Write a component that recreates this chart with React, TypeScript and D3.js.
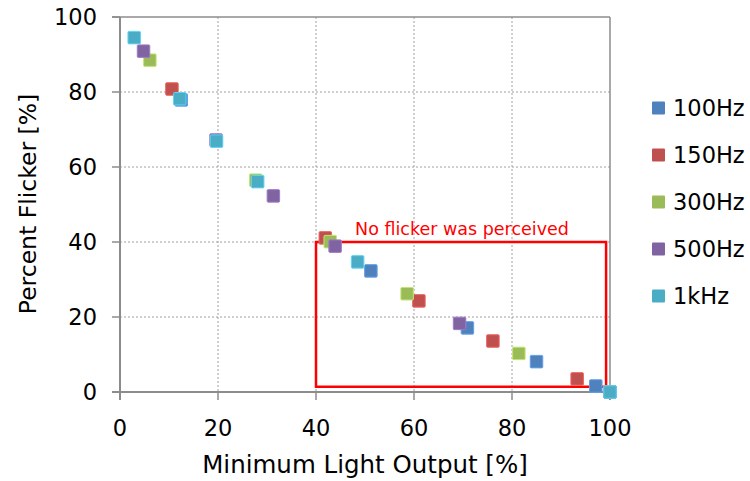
import React from "react";
import * as d3 from "d3";

// Measured flicker per frequency: [minimum light output %, percent flicker %]
const seriesNames = ["100Hz", "150Hz", "300Hz", "500Hz", "1kHz"];
const seriesColors = ["#4F81BD", "#C0504D", "#9BBB59", "#8064A2", "#4BACC6"];

const hz100: [number, number][] = [[12.5, 77.9], [51.2, 32.3], [70.9, 17.1], [85.0, 8.1], [97.1, 1.6], [100, 0]];
const hz150: [number, number][] = [[10.6, 80.8], [41.9, 41.1], [61.0, 24.3], [76.1, 13.6], [93.3, 3.5], [100, 0]];
const hz300: [number, number][] = [[6.1, 88.5], [27.7, 56.5], [42.9, 40.1], [58.6, 26.2], [81.4, 10.3], [100, 0]];
const hz500: [number, number][] = [[4.8, 90.9], [19.6, 67.2], [31.3, 52.3], [43.9, 38.9], [69.3, 18.3], [100, 0]];
const khz1: [number, number][] = [[2.9, 94.5], [12.2, 78.2], [19.7, 66.9], [28.1, 56.1], [48.5, 34.7], [100, 0]];

const seriesData = [hz100, hz150, hz300, hz500, khz1];

const xTicks = [0, 20, 40, 60, 80, 100];
const yTicks = [0, 20, 40, 60, 80, 100];

// Region where no flicker was perceived: [x0, x1], [y0, y1]
const regionX = [40, 99.2];
const regionY = [1.4, 40];
const regionLabel = "No flicker was perceived";

const FONT = "'DejaVu Sans', sans-serif";

export default function App() {
  const width = 750;
  const height = 481;
  const x = d3.scaleLinear().domain([0, 100]).range([120, 610]);
  const y = d3.scaleLinear().domain([0, 100]).range([392, 17]);
  const ms = 12.5;
  const axisColor = "#8c8c8c";

  return (
    <svg
      width={width}
      height={height}
      style={{ position: "absolute", left: 0, top: 0, background: "#fff" }}
      fontFamily={FONT}
    >
      {/* gridlines */}
      {xTicks.filter((t) => t > 0 && t < 100).map((t) => (
        <line key={"gx" + t} x1={x(t)} x2={x(t)} y1={y(100)} y2={y(0)} stroke="#a0a0a0" strokeWidth={1} strokeDasharray="2,2" />
      ))}
      {yTicks.filter((t) => t > 0 && t < 100).map((t) => (
        <line key={"gy" + t} x1={x(0)} x2={x(100)} y1={y(t)} y2={y(t)} stroke="#a0a0a0" strokeWidth={1} strokeDasharray="2,2" />
      ))}
      {/* frame lines at top and right */}
      <line x1={x(0) - 8} x2={x(100)} y1={y(100)} y2={y(100)} stroke={axisColor} strokeWidth={1.5} />
      <line x1={x(100)} x2={x(100)} y1={y(100)} y2={y(0) + 8} stroke={axisColor} strokeWidth={1.5} />

      {/* axes */}
      <line x1={x(0)} x2={x(0)} y1={y(100)} y2={y(0) + 8} stroke={axisColor} strokeWidth={2} />
      <line x1={x(0) - 8} x2={x(100)} y1={y(0)} y2={y(0)} stroke={axisColor} strokeWidth={2} />
      {yTicks.map((t) => (
        <g key={"yt" + t}>
          <line x1={x(0) - 8} x2={x(0)} y1={y(t)} y2={y(t)} stroke={axisColor} strokeWidth={1.5} />
          <text x={97} y={y(t)} dy="0.35em" textAnchor="end" fontSize={22.5} fill="#000">{t}</text>
        </g>
      ))}
      {xTicks.map((t) => (
        <g key={"xt" + t}>
          <line x1={x(t)} x2={x(t)} y1={y(0)} y2={y(0) + 8} stroke={axisColor} strokeWidth={1.5} />
          <text x={x(t)} y={428} dy="0.35em" textAnchor="middle" fontSize={22.5} fill="#000">{t}</text>
        </g>
      ))}

      {/* axis titles */}
      <text x={365} y={464} dy="0.35em" textAnchor="middle" fontSize={24.5} fill="#000">Minimum Light Output [%]</text>
      <text transform={`translate(28,204) rotate(-90)`} dy="0.35em" textAnchor="middle" fontSize={23.5} fill="#000">Percent Flicker [%]</text>

      {/* annotation box */}
      <rect
        x={x(regionX[0])}
        y={y(regionY[1])}
        width={x(regionX[1]) - x(regionX[0])}
        height={y(regionY[0]) - y(regionY[1])}
        fill="none"
        stroke="#ff0000"
        strokeWidth={2.5}
      />
      <text x={462} y={229} dy="0.35em" textAnchor="middle" fontSize={17.5} fill="#ff0000">{regionLabel}</text>

      {/* markers */}
      {seriesData.map((pts, i) => (
        <g key={seriesNames[i]}>
          {pts.map(([px, py], j) => (
            <rect
              key={j}
              x={x(px) - ms / 2}
              y={y(py) - ms / 2}
              width={ms}
              height={ms}
              fill={seriesColors[i]}
              stroke={d3.color(seriesColors[i])!.brighter(0.6).formatHex()}
              strokeWidth={1}
              rx={1}
            />
          ))}
        </g>
      ))}

      {/* legend */}
      {seriesNames.map((name, i) => (
        <g key={"lg" + name} transform={`translate(652, ${108 + i * 47})`}>
          <rect x={0} y={-6.5} width={13} height={13} fill={seriesColors[i]} rx={1} />
          <text x={21} y={0} dy="0.35em" fontSize={22.5} fill="#000">{name}</text>
        </g>
      ))}
    </svg>
  );
}
